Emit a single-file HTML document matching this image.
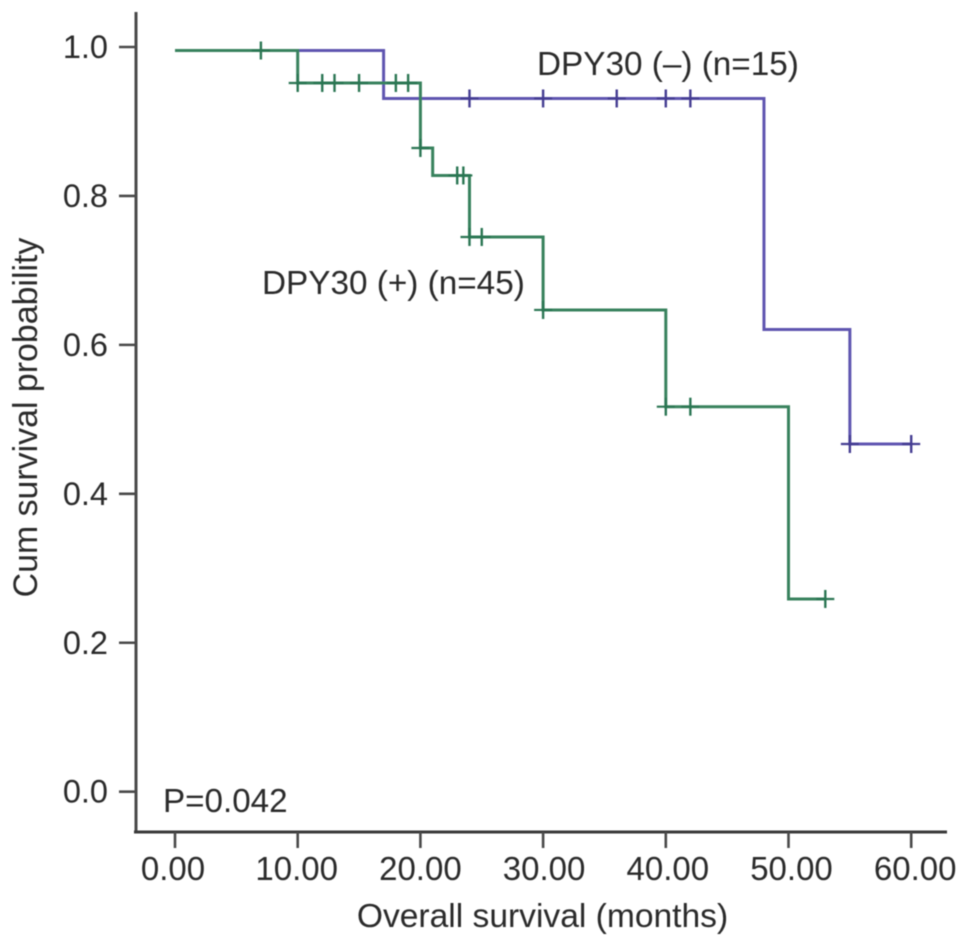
<!DOCTYPE html>
<html>
<head>
<meta charset="utf-8">
<title>Kaplan-Meier survival chart</title>
<style>
html,body{margin:0;padding:0;background:#fff;width:969px;height:947px;overflow:hidden}
svg{display:block}
text{font-family:"Liberation Sans",sans-serif;fill:#2b2b2b;font-size:33px}
</style>
</head>
<body>
<svg id="chart" width="969" height="947" viewBox="0 0 969 947">
<defs><filter id="soft" x="-5%" y="-5%" width="110%" height="110%"><feGaussianBlur stdDeviation="0.6"/></filter></defs>
<g id="root" filter="url(#soft)">
<text x="542.5" y="927" text-anchor="middle" style="font-size:33.6px">Overall survival (months)</text>
<text transform="translate(37,417.5) rotate(-90)" text-anchor="middle" style="font-size:33.9px">Cum survival probability</text>
<text x="537" y="75" style="font-size:33.3px">DPY30 (–) (n=15)</text>
<text x="262" y="294" style="font-size:33.3px">DPY30 (+) (n=45)</text>
<text x="163" y="812" style="font-size:33.2px">P=0.042</text>
</g>
</svg>
<script>
const xTicks = [0, 10, 20, 30, 40, 50, 60];
const xTickLabels = ["0.00", "10.00", "20.00", "30.00", "40.00", "50.00", "60.00"];
const yTicks = [0, 0.2, 0.4, 0.6, 0.8, 1.0];
const yTickLabels = ["0.0", "0.2", "0.4", "0.6", "0.8", "1.0"];

const negTimes = [0, 17, 48, 55];
const negSurv = [0.9953, 0.9309, 0.6207, 0.4669];
const negEnd = 60;
const negCensored = [24, 30, 36, 40, 42, 55, 60];

const posTimes = [0, 10, 20, 21, 24, 30, 40, 50];
const posSurv = [0.9953, 0.9517, 0.8644, 0.8275, 0.7449, 0.6469, 0.517, 0.2588];
const posEnd = 53;
const posCensored = [7, 10, 12, 13, 15, 18, 19, 20, 23, 23.5, 24, 25, 30, 40, 42, 53];

const NS = "http://www.w3.org/2000/svg";
const root = document.getElementById("root");
function xScale(v) { return 175 + 12.27 * v; }
function xLabelScale(v) { return 173 + 12.37 * v; }
function yScale(v) { return 791.7 - 744.7 * v; }

function mk(tag, attrs) {
  const el = document.createElementNS(NS, tag);
  for (const k in attrs) el.setAttribute(k, attrs[k]);
  root.appendChild(el);
  return el;
}

const AXIS = "#4a4a4a";
const yAxis = mk("line", {x1: 136, y1: 12, x2: 136, y2: 833, stroke: AXIS, "stroke-width": 3});


const xAxis = mk("line", {x1: 134, y1: 832, x2: 947, y2: 832, stroke: "#3a3a3a", "stroke-width": 3});



xTicks.forEach(function (t, i) {
  const x = xScale(t);
  const tick = mk("line", {x1: x, y1: 832, x2: x, y2: 848, stroke: AXIS, "stroke-width": 2.6});
  
  
  const label = mk("text", {x: xLabelScale(t), y: 880, "text-anchor": "middle"});
  label.textContent = xTickLabels[i];
  
  
});

yTicks.forEach(function (t, i) {
  const y = yScale(t);
  const tick = mk("line", {x1: 119, y1: y, x2: 136, y2: y, stroke: AXIS, "stroke-width": 2.6});
  
  
  const label = mk("text", {x: 108, y: y + 11, "text-anchor": "end", style: "font-size:32.5px"});
  label.textContent = yTickLabels[i];
  
  
});

function stepPath(times, surv, end) {
  let d = "M" + xScale(times[0]) + " " + yScale(surv[0]);
  for (let i = 1; i < times.length; i++) {
    d += "H" + xScale(times[i]) + "V" + yScale(surv[i]);
  }
  return d + "H" + xScale(end);
}

function survAt(times, surv, t) {
  let s = surv[0];
  for (let i = 0; i < times.length; i++) if (t >= times[i]) s = surv[i];
  return s;
}

function drawCensors(times, surv, censored, color, group) {
  censored.forEach(function (t) {
    const x = xScale(t), y = yScale(survAt(times, surv, t));
    const v = mk("line", {x1: x, y1: y - 9, x2: x, y2: y + 9, stroke: color, "stroke-width": 2.4});
    
    
    const h = mk("line", {x1: x - 9, y1: y, x2: x + 9, y2: y, stroke: color, "stroke-width": 2.2});
    
    
  });
}

const negLine = mk("path", {d: stepPath(negTimes, negSurv, negEnd), fill: "none", stroke: "#5f54b0", "stroke-width": 3});


drawCensors(negTimes, negSurv, negCensored, "#453d92", "dpy30-negative");

const posLine = mk("path", {d: stepPath(posTimes, posSurv, posEnd), fill: "none", stroke: "#37825d", "stroke-width": 3});


drawCensors(posTimes, posSurv, posCensored, "#2c7652", "dpy30-positive");
</script>
</body>
</html>
